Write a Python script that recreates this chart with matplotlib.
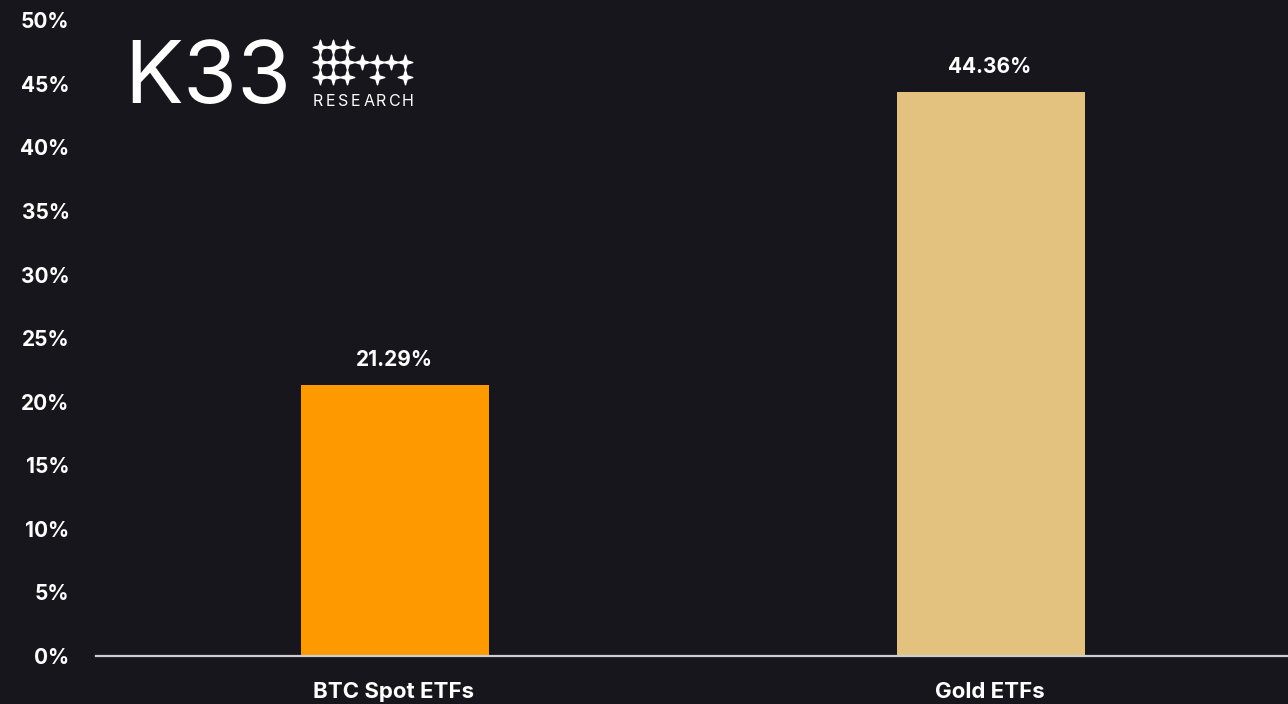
import numpy as np
import matplotlib.pyplot as plt
from matplotlib.path import Path

# Share of AUM, in percent
categories = ["BTC Spot ETFs", "Gold ETFs"]
values = [21.29, 44.36]
bar_colors = ["#FF9900", "#E2C27E"]
yticks = [0, 5, 10, 15, 20, 25, 30, 35, 40, 45, 50]

BG = "#17161C"
FONT = "Inter"

fig = plt.figure(figsize=(12.88, 7.04), dpi=100, facecolor=BG)
ax = fig.add_axes([96 / 1288, 48 / 704, 1192 / 1288, 656 / 704], facecolor=BG)

x = np.arange(len(categories))
ax.bar(x + 0.002, values, width=0.315, color=bar_colors, zorder=2)

for xi, v in zip(x, values):
    ax.annotate(f"{v:.2f}%", (xi, v), xytext=(0, 11), textcoords="offset points",
                ha="center", va="bottom", color="white", fontsize=15,
                fontweight="bold", family=FONT)

ax.set_xlim(-0.5, 1.5)
ax.set_ylim(0, 51.6)
ax.set_yticks(yticks)
ax.set_yticklabels([f"{t}%" for t in yticks])
ax.set_xticks(x)
ax.set_xticklabels(categories)

for lab in ax.get_yticklabels():
    lab.set_family(FONT)
    lab.set_fontweight("bold")
    lab.set_color("white")
    lab.set_fontsize(15)
for lab in ax.get_xticklabels():
    lab.set_family(FONT)
    lab.set_fontweight("bold")
    lab.set_color("white")
    lab.set_fontsize(16)

ax.tick_params(axis="y", length=0, pad=19)
ax.tick_params(axis="x", length=0, pad=19)

for side in ["top", "right", "left"]:
    ax.spines[side].set_visible(False)
ax.spines["bottom"].set_color("#CFCFCF")
ax.spines["bottom"].set_linewidth(1.6)

# K33 Research logo
fig.text(124 / 1288, 1 - 81 / 704, "K33", color="white", fontsize=63,
         fontweight="normal", family=FONT, ha="left", va="center")
for i, ch in enumerate("RESEARCH"):
    fig.text((313 + i * 12.6) / 1288, 1 - 102 / 704, ch, color="white",
             fontsize=11.5, family=FONT, ha="left", va="center")

# four-point star marker
t = np.linspace(0, 2 * np.pi, 9)[:-1] + np.pi / 2
r = np.where(np.arange(8) % 2 == 0, 1.0, 0.32)
verts = np.column_stack([r * np.cos(t), r * np.sin(t)])
star = Path(np.vstack([verts, verts[:1]]), closed=True)

col_px = [320, 333, 347, 362, 377, 391, 405]
rows = [(47, [0, 1, 2]), (62, [0, 1, 2, 3, 4, 5, 6]), (77, [0, 1, 2, 4, 6])]
for ypx, cols in rows:
    xs = [col_px[c] / 1288 for c in cols]
    ys = [1 - ypx / 704] * len(cols)
    fig.add_artist(plt.Line2D(xs, ys, transform=fig.transFigure, linestyle="none",
                              marker=star, markersize=10.5, color="white"))

fig.savefig("out.png", dpi=100, facecolor=BG)
